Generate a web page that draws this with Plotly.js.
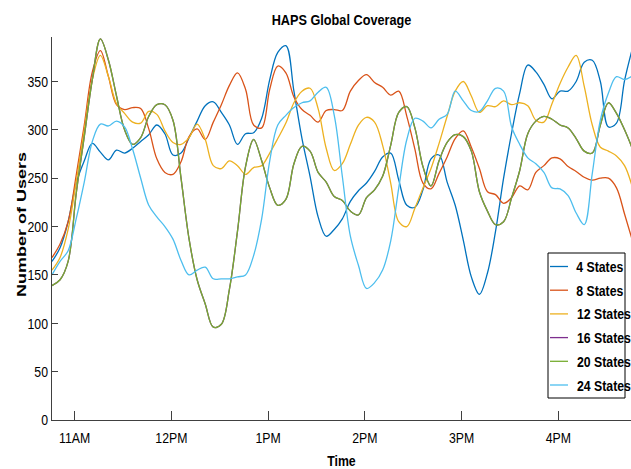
<!DOCTYPE html>
<html>
<head>
<meta charset="utf-8">
<script src="https://cdn.plot.ly/plotly-3.0.1.min.js"></script>
<style>
  html, body { margin: 0; padding: 0; background: #fff; }
  #chart { width: 631px; height: 469px; }
</style>
</head>
<body>
<div id="chart"></div>
<script>
// Sample times (every 5 minutes)
const times = [
  '10:46','10:51','10:56','11:01','11:06','11:11','11:16','11:21','11:26','11:31',
  '11:36','11:41','11:46','11:51','11:56','12:01','12:06','12:11','12:16','12:21',
  '12:26','12:31','12:36','12:41','12:46','12:51','12:56','13:01','13:06','13:11',
  '13:16','13:21','13:26','13:31','13:36','13:41','13:46','13:51','13:56','14:01',
  '14:06','14:11','14:16','14:21','14:26','14:31','14:36','14:41','14:46','14:51',
  '14:56','15:01','15:06','15:11','15:16','15:21','15:26','15:31','15:36','15:41',
  '15:46','15:51','15:56','16:01','16:06','16:11','16:16','16:21','16:26','16:31',
  '16:36','16:41','16:46'
];

const states4 = [
  164,178,205,245,268,286,277,269,279,276,281,288,295,305,296,274,276,292,309,325,
  329,318,305,285,296,297,312,352,380,387,340,291,252,210,190,197,208,226,237,245,
  257,272,276,248,222,220,238,270,274,246,222,186,148,130,152,195,250,297,338,367,
  360,347,332,340,340,350,370,372,350,303,307,351,385
];
const states8 = [
  168,182,205,253,305,360,382,355,326,321,323,322,301,270,256,254,267,293,301,290,
  308,326,346,359,342,305,302,342,366,359,334,321,315,308,320,321,320,340,351,357,
  349,344,336,340,314,280,245,239,255,272,291,299,282,260,236,233,224,230,242,238,
  256,263,271,270,262,257,251,248,250,250,240,213,185
];
const states12 = [
  155,168,197,246,300,352,377,355,327,317,308,307,319,316,299,287,285,292,306,290,
  263,260,268,263,254,261,263,276,291,307,328,340,343,322,281,258,265,285,305,313,
  308,284,245,205,200,219,240,260,286,314,340,350,335,318,325,324,330,326,328,325,
  310,308,327,348,365,377,345,305,282,278,273,263,240
];
const states16 = [
  139,145,164,234,293,352,394,372,335,300,285,292,314,326,326,310,250,187,145,120,
  96,99,135,195,262,290,268,240,222,228,265,283,278,256,246,231,227,216,212,230,
  238,252,284,318,324,302,262,242,268,287,295,293,278,236,216,202,205,230,258,296,
  309,314,311,305,302,291,278,276,305,328,317,300,280
];
const states20 = [
  139,145,164,234,293,352,394,372,335,300,285,292,314,326,326,310,250,187,145,120,
  96,99,135,195,262,290,268,240,222,228,265,283,278,256,246,231,227,216,212,230,
  238,252,284,318,324,302,262,242,268,287,295,293,278,236,216,202,205,230,258,296,
  309,314,311,305,302,291,278,276,305,328,317,300,280
];
const states24 = [
  150,164,175,208,246,288,306,304,309,303,280,250,222,210,200,187,165,150,155,158,
  146,146,146,148,150,170,208,268,305,315,323,328,330,339,344,315,252,190,160,136,
  142,155,185,240,290,312,309,302,311,316,340,330,320,319,330,343,340,303,285,271,
  265,256,240,239,232,214,202,255,310,338,355,352,356
];

const seriesNames = ['4 States','8 States','12 States','16 States','20 States','24 States'];
const seriesValues = [states4, states8, states12, states16, states20, states24];
const seriesColors = ['#0072BD','#D95319','#EDB120','#7E2F8E','#77AC30','#4DBEEE'];

const tickTimes = ['11:00','12:00','13:00','14:00','15:00','16:00'];
const tickLabels = ['11AM','12PM','1PM','2PM','3PM','4PM'];
const yTicks = [0, 50, 100, 150, 200, 250, 300, 350];

function toMinutes(t) {
  const p = t.split(':');
  return Number(p[0]) * 60 + Number(p[1]);
}
const xMin = times.map(toMinutes);

const boldFont = '"Liberation Sans", Arial, sans-serif';

const traces = seriesNames.map((name, i) => ({
  type: 'scatter',
  mode: 'lines',
  name: name,
  x: xMin,
  y: seriesValues[i],
  line: { color: seriesColors[i], width: 1.3, shape: 'spline', smoothing: 1 },
  showlegend: false,
  hoverinfo: 'skip'
}));

// Plot-area geometry (pixels) used to place the legend box and y title
const W = 631, H = 469;
const M = { l: 52, r: 0, t: 37, b: 49 };
const plotW = W - M.l - M.r, plotH = H - M.t - M.b;
const px2x = px => (px - M.l) / plotW;
const py2y = py => (H - M.b - py) / plotH;

const shapes = [];
const annotations = [];
// legend frame
shapes.push({
  type: 'rect', xref: 'paper', yref: 'paper',
  x0: px2x(548), x1: px2x(625), y0: py2y(398), y1: py2y(253),
  line: { color: '#000', width: 1 }, fillcolor: '#fff', layer: 'above'
});
seriesNames.forEach((name, i) => {
  const cy = 266.5 + i * 23.7;
  shapes.push({
    type: 'line', xref: 'paper', yref: 'paper',
    x0: px2x(550), x1: px2x(568), y0: py2y(cy), y1: py2y(cy),
    line: { color: seriesColors[i], width: 1.3 }, layer: 'above'
  });
  annotations.push({
    xref: 'paper', yref: 'paper', x: px2x(569), y: py2y(cy),
    xanchor: 'left', yanchor: 'middle', showarrow: false,
    text: '<b>' + name + '</b>',
    font: { family: boldFont, size: 15, color: '#000' }
  });
});
// y-axis title
annotations.push({
  xref: 'paper', yref: 'paper', x: px2x(20), y: py2y(225),
  xanchor: 'center', yanchor: 'middle', showarrow: false, textangle: -90,
  text: '<b>Number of Users</b>',
  font: { family: boldFont, size: 18, color: '#000' }
});

const layout = {
  width: W, height: H,
  margin: M,
  paper_bgcolor: '#fff', plot_bgcolor: '#fff',
  showlegend: false,
  title: {
    text: '<b>HAPS Global Coverage</b>',
    x: 0.5, xref: 'paper', xanchor: 'center',
    y: 1 - 20 / H, yref: 'container', yanchor: 'middle',
    font: { family: boldFont, size: 15.5, color: '#000' }
  },
  xaxis: {
    range: [646, 646 + 359],
    tickvals: tickTimes.map(toMinutes),
    ticktext: tickLabels,
    ticks: 'inside', ticklen: 9, tickwidth: 1, tickcolor: '#404040',
    ticklabelstandoff: 4,
    showline: true, linecolor: '#404040', linewidth: 1,
    showgrid: false, zeroline: false,
    tickfont: { family: boldFont, size: 15, color: '#000' },
    title: { text: '<b>Time</b>', standoff: 14, font: { family: boldFont, size: 15, color: '#000' } },
    fixedrange: true
  },
  yaxis: {
    range: [0, 396],
    tickvals: yTicks,
    ticks: 'inside', ticklen: 6, tickwidth: 1, tickcolor: '#404040',
    showline: true, linecolor: '#404040', linewidth: 1,
    showgrid: false, zeroline: false,
    tickfont: { family: boldFont, size: 15, color: '#000' },
    fixedrange: true
  },
  shapes: shapes,
  annotations: annotations
};

// True when a transform string holds a non-zero rotation
function hasTurn(str) {
  const m = /rotate\(\s*(-?[\d.]+)/.exec(str || '');
  return !!m && Math.abs(parseFloat(m[1])) > 0.01;
}
function isTurned(el) {
  for (let n = el; n && n.tagName && n.tagName.toLowerCase() !== 'svg'; n = n.parentNode) {
    if (hasTurn(n.getAttribute('transform'))) return true;
  }
  return false;
}

// Condensed lettering: squeeze each label around its anchor point
// (sideways for upright text, across the glyphs for turned text).
// Safe to call repeatedly; a label already squeezed is left alone.
function condenseText(gd) {
  gd.querySelectorAll('svg text').forEach(t => {
    const own = t.getAttribute('transform') || '';
    if (own !== '' && t.getAttribute('data-squeezed') === own) return;
    const x = parseFloat(t.getAttribute('x')) || 0;
    const y = parseFloat(t.getAttribute('y')) || 0;
    const s = isTurned(t) ? 'scale(1,0.76)' : 'scale(0.82,1)';
    const next = (own + ' translate(' + x + ',' + y + ') ' + s +
      ' translate(' + (-x) + ',' + (-y) + ')').trim();
    t.setAttribute('transform', next);
    t.setAttribute('data-squeezed', next);
  });
}

const gd = document.getElementById('chart');
Plotly.newPlot(gd, traces, layout, { displayModeBar: false, staticPlot: true })
  .then(() => {
    condenseText(gd);
    gd.on('plotly_afterplot', () => condenseText(gd));
    requestAnimationFrame(() => condenseText(gd));
    setTimeout(() => condenseText(gd), 30);
    setTimeout(() => condenseText(gd), 200);
  });
</script>
</body>
</html>
